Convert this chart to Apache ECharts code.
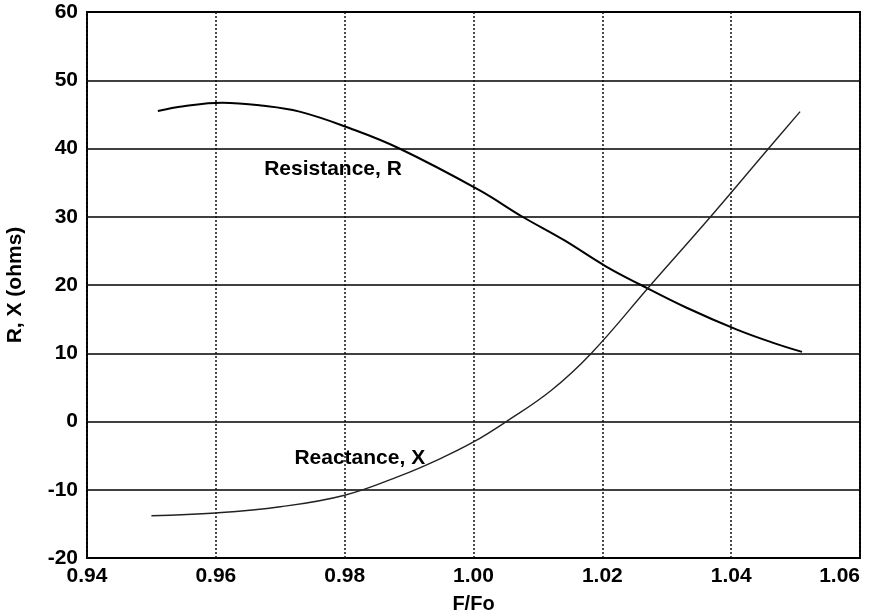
<!DOCTYPE html>
<html>
<head>
<meta charset="utf-8">
<script src="https://cdn.jsdelivr.net/npm/echarts@6/dist/echarts.min.js"></script>
<style>
html,body{margin:0;padding:0;background:#fff;}
#c{width:869px;height:614px;}
</style>
</head>
<body>
<div id="c"></div>
<script>
// Data
const resistanceF = [0.951, 0.955, 0.961, 0.967, 0.973, 0.981, 0.9885, 1.0009, 1.0076, 1.014, 1.0206, 1.026, 1.033, 1.0408, 1.0463, 1.051];
const resistanceR = [45.5, 46.2, 46.7, 46.3, 45.4, 42.9, 40.0, 33.9, 30.0, 26.6, 22.7, 20.0, 16.7, 13.5, 11.6, 10.2];
const reactanceF = [0.950, 0.960, 0.970, 0.980, 0.9885, 0.9947, 1.000, 1.0051, 1.012, 1.0183, 1.0275, 1.0368, 1.0458, 1.0507];
const reactanceX = [-13.8, -13.4, -12.5, -10.8, -8.0, -5.5, -3.0, 0.0, 4.5, 10.0, 20.0, 30.0, 40.0, 45.4];
const xRange = [0.94, 1.06, 0.02];
const yRange = [-20, 60, 10];
const xTitle = 'F/Fo';
const yTitle = 'R, X (ohms)';
const rLabel = {text: 'Resistance, R', at: [0.9675, 37.0]};
const xLabel = {text: 'Reactance, X', at: [0.9722, -5.4]};

const FONT = '"Liberation Sans", Arial, Helvetica, sans-serif';
const zip = (a, b) => a.map((v, i) => [v, b[i]]);

const chart = echarts.init(document.getElementById('c'), null, {renderer: 'canvas'});
const labelPoint = (l) => ({
  coord: l.at, symbol: 'circle', symbolSize: 0,
  label: {show: true, position: 'right', distance: 0, formatter: l.text,
    color: '#000', fontFamily: FONT, fontWeight: 'bold', fontSize: 21}
});
chart.setOption({
  animation: false,
  backgroundColor: '#fff',
  grid: {left: 87, right: 9, top: 12, bottom: 56, containLabel: false, outerBoundsMode: 'none',
    show: true, borderColor: '#000', borderWidth: 2, backgroundColor: 'transparent'},
  xAxis: {
    type: 'value', min: xRange[0], max: xRange[1], interval: xRange[2],
    name: xTitle, nameLocation: 'middle', nameGap: 36,
    nameTextStyle: {color: '#000', fontFamily: FONT, fontWeight: 'bold', fontSize: 20},
    axisLine: {show: false}, axisTick: {show: false},
    axisLabel: {color: '#000', fontFamily: FONT, fontWeight: 'bold', fontSize: 21, margin: 8,
      alignMaxLabel: 'right', showMaxLabel: true,
      formatter: v => v.toFixed(2)},
    splitLine: {show: true, lineStyle: {color: '#111', type: [2, 2], width: 1.5}}
  },
  yAxis: {
    type: 'value', min: yRange[0], max: yRange[1], interval: yRange[2],
    name: yTitle, nameLocation: 'middle', nameGap: 61, nameRotate: 90,
    nameTextStyle: {color: '#000', fontFamily: FONT, fontWeight: 'bold', fontSize: 21},
    axisLine: {show: false}, axisTick: {show: false},
    axisLabel: {color: '#000', fontFamily: FONT, fontWeight: 'bold', fontSize: 21, margin: 9},
    splitLine: {show: true, lineStyle: {color: '#000', type: 'solid', width: 1.6}}
  },
  series: [
    {
      name: 'Resistance, R', type: 'line', data: zip(resistanceF, resistanceR),
      smooth: 0.4, showSymbol: false, symbol: 'none',
      lineStyle: {color: '#000', width: 2},
      markPoint: {silent: true, data: [labelPoint(rLabel)]}
    },
    {
      name: 'Reactance, X', type: 'line', data: zip(reactanceF, reactanceX),
      smooth: 0.4, showSymbol: false, symbol: 'none',
      lineStyle: {color: '#222', width: 1.4},
      markPoint: {silent: true, data: [labelPoint(xLabel)]}
    }
  ]
});
</script>
</body>
</html>
